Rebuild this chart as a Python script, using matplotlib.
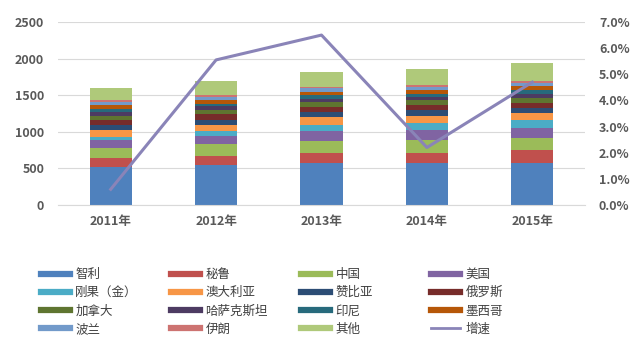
import matplotlib
matplotlib.use("Agg")
import matplotlib.pyplot as plt
from matplotlib.lines import Line2D
import numpy as np

plt.rcParams['font.family'] = ['Noto Sans CJK SC', 'DejaVu Sans']

years = ["2011年", "2012年", "2013年", "2014年", "2015年"]
countries = ["智利", "秘鲁", "中国", "美国", "刚果（金）", "澳大利亚", "赞比亚", "俄罗斯",
             "加拿大", "哈萨克斯坦", "印尼", "墨西哥", "波兰", "伊朗", "其他"]
colors = ["#4F81BD", "#C0504D", "#9BBB59", "#8064A2", "#4BACC6", "#F79646", "#2C4D75", "#772C2A",
          "#5F7530", "#4D3B62", "#276A7C", "#B65708", "#729ACA", "#CD7371", "#AFC97A"]

# output by country, per year
chile      = [522, 540, 575, 575, 576]
peru       = [124, 130, 138, 138, 170]
china      = [126, 161, 168, 176, 171]
usa        = [111, 117, 125, 136, 138]
congo      = [48, 60, 90, 99, 100]
australia  = [96, 91, 100, 97, 97]
zambia     = [67, 69, 76, 71, 71]
russia     = [71, 72, 72, 74, 73]
canada     = [57, 58, 63, 67, 70]
kazakhstan = [42, 49, 45, 43, 45]
indonesia  = [54, 36, 50, 38, 58]
mexico     = [44, 50, 48, 52, 59]
poland     = [43, 43, 43, 43, 43]
iran       = [24, 24, 24, 24, 25]
other      = [175, 200, 195, 222, 249]
series = [chile, peru, china, usa, congo, australia, zambia, russia,
          canada, kazakhstan, indonesia, mexico, poland, iran, other]

growth = [0.006, 0.0555, 0.065, 0.022, 0.047]  # 增速

fig = plt.figure(figsize=(6.4, 3.55), dpi=100)
ax = fig.add_axes([58 / 640, 1 - 205 / 355, 527 / 640, 183 / 355])
x = np.arange(len(years))
bottom = np.zeros(len(years))
for vals, c in zip(series, colors):
    ax.bar(x, vals, width=0.4, bottom=bottom, color=c, zorder=2)
    bottom += np.array(vals)

ax.set_xlim(-0.5, 4.5)
ax.set_ylim(0, 2500)
ax.set_yticks(range(0, 2501, 500))
ax.grid(axis='y', color='#d9d9d9', lw=0.8, zorder=0)
for s in ['top', 'left', 'right']:
    ax.spines[s].set_visible(False)
ax.spines['bottom'].set_color('#d9d9d9')
ax.set_xticks(x)
ax.set_xticklabels(years)
ax.tick_params(axis='x', length=0, pad=7, labelsize=9, labelcolor='#595959')
ax.tick_params(axis='y', length=0, pad=10, labelsize=9, labelcolor='#595959')
for t in ax.get_xticklabels() + ax.get_yticklabels():
    t.set_fontweight('bold')

ax2 = ax.twinx()
ax2.plot(x, growth, color='#8A84B8', lw=2.2, zorder=3)
ax2.set_ylim(0, 0.07)
ax2.set_yticks(np.arange(0, 0.0701, 0.01))
ax2.set_yticklabels([f"{v * 100:.1f}%" for v in np.arange(0, 0.0701, 0.01)])
ax2.tick_params(axis='y', length=0, pad=10, labelsize=9, labelcolor='#595959')
for t in ax2.get_yticklabels():
    t.set_fontweight('bold')
for s in ax2.spines.values():
    s.set_visible(False)

handles = [Line2D([], [], color=c, lw=4.5) for c in colors]
handles.append(Line2D([], [], color='#8A84B8', lw=2))
labels = countries + ["增速"]
for col in range(4):
    idx = [row * 4 + col for row in range(4)]
    fig.legend([handles[i] for i in idx], [labels[i] for i in idx],
               loc='upper left', bbox_to_anchor=((41 + col * 130) / 640, 1 - 268 / 355),
               frameon=False, fontsize=9, handlelength=2.3, handletextpad=0.45,
               labelspacing=0.42, borderpad=0, borderaxespad=0, labelcolor='#404040')

fig.savefig("out.png", dpi=100)
